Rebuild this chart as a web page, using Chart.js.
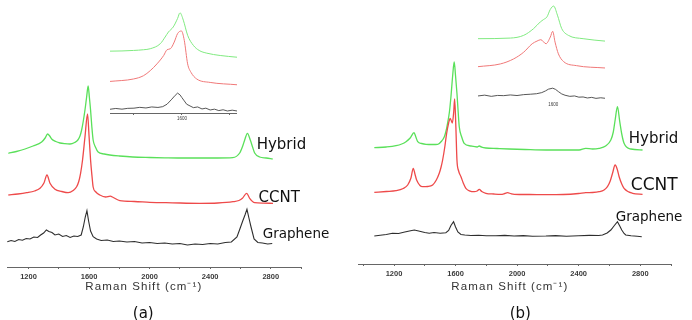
<!DOCTYPE html>
<html>
<head>
<meta charset="utf-8">
<script src="https://cdn.jsdelivr.net/npm/chart.js@4.4.1/dist/chart.umd.min.js"></script>
<style>
  html, body { margin: 0; padding: 0; background: #fff; }
  #wrap { position: relative; width: 692px; height: 320px; overflow: hidden; }
  .box { position: absolute; }
</style>
</head>
<body>
<div id="wrap">
  <div class="box" style="left:0;top:0;width:346px;height:320px"><canvas id="mainA"></canvas></div>
  <div class="box" style="left:346px;top:0;width:346px;height:320px"><canvas id="mainB"></canvas></div>
  <div class="box" style="left:110px;top:0;width:127px;height:125px"><canvas id="insetA"></canvas></div>
  <div class="box" style="left:478px;top:0;width:127px;height:110px"><canvas id="insetB"></canvas></div>
</div>
<script>
// Raman spectra, intensities in arbitrary units (stacked as drawn)

// ---- panel (a) ----
const aHybridX = [1067, 1120, 1177, 1230, 1287, 1310, 1326, 1340, 1353, 1380, 1408, 1440, 1474, 1505, 1526, 1540, 1551, 1562, 1573, 1584, 1594, 1602, 1610, 1618, 1627, 1642, 1660, 1700, 1737, 1800, 1889, 2000, 2100, 2200, 2331, 2450, 2549, 2595, 2615, 2628, 2646, 2665, 2680, 2694, 2727, 2770, 2813];
const aHybridY = [113.7, 115.5, 118, 121, 125, 129, 133, 131, 128, 125.5, 124, 123.3, 123, 124.5, 127, 131, 137, 146, 157, 170, 181, 170, 157, 141, 127, 120, 115, 113, 112, 111, 110, 109.5, 109.2, 109, 109, 109, 109.3, 114, 121, 127, 133.7, 127, 120, 114, 110, 109, 108];

const aCcntX = [1067, 1130, 1188, 1240, 1276, 1302, 1322, 1342, 1375, 1420, 1462, 1495, 1518, 1532, 1544, 1557, 1573, 1590, 1600, 1610, 1620, 1627, 1645, 1671, 1710, 1740, 1760, 1803, 1900, 2001, 2150, 2331, 2450, 2551, 2590, 2613, 2641, 2661, 2694, 2750, 2815];
const aCcntY = [72, 73, 74.3, 76, 78.7, 84, 92, 83.7, 77.7, 75.5, 74.3, 76.5, 80.3, 85.5, 93.7, 107, 130, 153, 131, 107, 90, 80, 75, 72, 70, 70.8, 69.5, 66.3, 65.5, 64.7, 64.2, 63.7, 64, 65.3, 66.5, 68.7, 73.7, 68.7, 64.3, 63.8, 63.7];

const aGrapheneX = [1060, 1085, 1110, 1135, 1160, 1185, 1210, 1235, 1260, 1280, 1300, 1318, 1335, 1355, 1375, 1400, 1425, 1450, 1475, 1500, 1525, 1548, 1562, 1575, 1586, 1597, 1610, 1627, 1650, 1680, 1720, 1760, 1800, 1850, 1900, 1950, 2000, 2050, 2100, 2150, 2200, 2250, 2300, 2350, 2400, 2450, 2500, 2540, 2577, 2595, 2615, 2630, 2643, 2656, 2670, 2690, 2715, 2745, 2780, 2810];
const aGrapheneY = [25.3, 26.5, 25.5, 27.5, 26.8, 28.5, 28, 30, 29.5, 32, 34, 37, 35.5, 34.5, 32, 33, 30.5, 31.5, 29.5, 31, 30.5, 32, 40, 50, 56.3, 46, 36, 30.3, 28, 26.5, 27, 25.5, 26, 25, 25.5, 24, 24.5, 23.5, 24, 23, 23.5, 22, 23, 22.5, 23.5, 23, 24.5, 25, 30, 37.5, 46, 52, 57.7, 49, 40, 28, 24.5, 24, 23, 23.5];

// inset (a), G band region
const aInHybridX = [1450, 1475, 1499, 1520, 1534, 1555, 1565, 1572, 1582, 1591, 1596, 1603, 1612, 1624, 1636, 1652, 1680, 1715];
const aInHybridY = [61.3, 61.5, 62, 62.7, 63.7, 68.7, 75.3, 80.3, 85.3, 93.7, 99.3, 92, 77, 67, 62, 59.3, 57, 55.3];
const aInCcntX = [1450, 1499, 1520, 1534, 1548, 1562, 1569, 1576, 1584, 1591, 1599, 1605, 1612, 1619, 1631, 1659, 1715];
const aInCcntY = [31.3, 33.7, 37, 42, 48.7, 57, 62.7, 63.7, 70.3, 78.7, 81.3, 72, 48.7, 40.3, 33.7, 30.3, 28];
const aInGrapheneX = [1450, 1462, 1475, 1487, 1500, 1512, 1525, 1537, 1550, 1560, 1569, 1579, 1586, 1591, 1596, 1600, 1605, 1610, 1617, 1624, 1633, 1642, 1650, 1659, 1668, 1677, 1686, 1695, 1705, 1715];
const aInGrapheneY = [3.7, 4.5, 3.8, 4.6, 4.8, 5.6, 5, 6, 5.5, 6.3, 8.7, 13.7, 17.5, 19.7, 18, 15.3, 12, 8.7, 7, 5.3, 6, 4, 4.8, 3, 3.8, 2.4, 3.2, 2, 2.8, 2];

// ---- panel (b) ----
const bHybridX = [1072, 1150, 1213, 1250, 1278, 1305, 1330, 1342, 1354, 1380, 1408, 1450, 1484, 1510, 1527, 1538, 1548, 1560, 1570, 1581, 1591, 1600, 1609, 1617, 1624, 1640, 1656, 1700, 1740, 1754, 1770, 1797, 1870, 1948, 2050, 2187, 2300, 2403, 2446, 2490, 2533, 2575, 2609, 2625, 2637, 2652, 2667, 2680, 2695, 2739, 2815];
const bHybridY = [116.3, 117, 118.3, 120, 122.3, 126, 131.3, 127, 122.3, 120.5, 119.7, 119.5, 119.7, 123, 127.3, 133, 140.7, 152, 167.3, 188, 202, 188, 170.7, 152, 137.3, 127, 120.7, 118, 117, 118, 116.8, 116, 115.5, 115, 114.5, 114, 114, 114, 115.7, 115, 115.7, 118, 124, 132, 144, 157.3, 142.3, 130, 120.7, 115, 114];

const bCcntX = [1072, 1150, 1213, 1260, 1289, 1310, 1325, 1336, 1347, 1386, 1420, 1451, 1475, 1494, 1506, 1516, 1530, 1542, 1555, 1565, 1579, 1588, 1594, 1602, 1609, 1620, 1635, 1650, 1667, 1722, 1740, 1754, 1770, 1797, 1850, 1895, 1920, 1938, 1960, 1981, 2080, 2187, 2300, 2400, 2446, 2490, 2533, 2565, 2587, 2605, 2620, 2637, 2650, 2663, 2680, 2695, 2750, 2815];
const bCcntY = [71.7, 72.5, 73.3, 75.5, 79, 86, 95.7, 90, 84, 77.3, 77.5, 79, 84, 90.7, 97, 104, 117, 130.7, 141, 145.7, 141, 152, 165, 137, 104, 93, 87.3, 81, 75.7, 72.3, 73, 74.7, 72.5, 70.7, 70, 69.7, 70.5, 71.3, 70.3, 69.7, 69.5, 69.3, 69.5, 70.5, 71.3, 71.5, 72.3, 74, 77.3, 83, 90.7, 99, 95, 87.3, 80, 75.7, 70.7, 69.7];

const bGrapheneX = [1072, 1110, 1150, 1190, 1230, 1270, 1300, 1332, 1360, 1400, 1429, 1460, 1500, 1537, 1555, 1570, 1587, 1600, 1615, 1635, 1660, 1700, 1750, 1800, 1862, 1920, 1980, 2040, 2100, 2187, 2250, 2320, 2400, 2470, 2530, 2555, 2585, 2609, 2632, 2652, 2667, 2680, 2695, 2706, 2740, 2780, 2810];
const bGrapheneY = [28, 28.8, 29.5, 30.7, 30.5, 32, 33, 34, 33, 31.5, 30.7, 31.5, 30.8, 31.3, 33.5, 38.5, 42.3, 37, 32, 29.5, 29, 28.5, 28.8, 28.3, 28.3, 28.6, 28, 28.4, 27.8, 28, 28.4, 27.8, 28.2, 28.6, 28.5, 29, 31, 34, 38.5, 42.3, 38, 34, 30.5, 29, 28.2, 27.8, 27.3];

// inset (b)
const bInHybridX = [1442, 1510, 1538, 1559, 1573, 1580, 1587, 1594, 1601, 1609, 1618, 1632, 1663, 1709];
const bInHybridY = [61.7, 62.3, 65, 71.7, 78.3, 80.7, 83.3, 90.7, 94, 85, 71.7, 65, 61.7, 59.3];
const bInCcntX = [1442, 1489, 1517, 1538, 1556, 1566, 1574, 1585, 1594, 1599, 1604, 1611, 1622, 1649, 1709];
const bInCcntY = [34, 36.7, 41.7, 48.3, 56.7, 59.3, 60.7, 56.7, 63.3, 69, 58.3, 46.7, 39, 35, 32.7];
const bInGrapheneX = [1442, 1456, 1470, 1483, 1496, 1510, 1524, 1538, 1552, 1565, 1576, 1584, 1590, 1599, 1605, 1611, 1618, 1625, 1635, 1645, 1654, 1663, 1672, 1681, 1690, 1700, 1709];
const bInGrapheneY = [5, 5.8, 4.6, 5.5, 5.3, 6, 5.4, 6.3, 6.7, 7.2, 8.3, 10, 11.7, 12.7, 11.5, 9.3, 7, 5.7, 4.6, 5, 3.8, 4, 3, 3.6, 2.6, 3.2, 2.7];

// tick positions
const mainTicks = [1000, 1200, 1400, 1600, 1800, 2000, 2200, 2400, 2600, 2800, 3000];
const mainTickLabels = [1200, 1600, 2000, 2400, 2800];
const insetTicks = [1500, 1600, 1700];
const insetTickLabels = [1600];

const GREEN = '#5ae05a';
const RED = '#ee4a4a';
const BLACK = '#2e2e2e';
const IN_GREEN = '#80ea80';
const IN_RED = '#f07878';
const IN_BLACK = '#444444';

// draws free text at data coordinates (curve names, axis caption, panel letter)
const textMarks = {
  id: 'textMarks',
  afterDraw(chart, args, opts) {
    if (!opts.items) return;
    const { ctx, scales } = chart;
    ctx.save();
    opts.items.forEach((it) => {
      ctx.font = it.font;
      ctx.fillStyle = it.color || '#111';
      ctx.textAlign = it.align || 'left';
      ctx.textBaseline = 'middle';
      ctx.letterSpacing = it.spacing || '0px';
      ctx.fillText(it.text, scales.x.getPixelForValue(it.x), scales.y.getPixelForValue(it.y));
    });
    ctx.restore();
  },
};
Chart.register(textMarks);

function series(label, xs, ys, color, width, order, smooth) {
  return {
    label,
    data: xs.map((x, i) => ({ x, y: ys[i] })),
    borderColor: color,
    borderWidth: width,
    pointRadius: 0,
    fill: false,
    order,
    tension: 0,
    cubicInterpolationMode: smooth ? 'monotone' : 'default',
  };
}

function xScale(min, max, tickVals, labelVals, font, opts) {
  return {
    type: 'linear',
    position: 'bottom',
    min,
    max,
    afterBuildTicks: (axis) => {
      axis.ticks = tickVals.filter((v) => v >= min && v <= max).map((v) => ({ value: v }));
    },
    ticks: {
      autoSkip: false,
      maxRotation: 0,
      padding: opts.padding,
      color: '#3a3a3a',
      font,
      callback: (v) => (labelVals.includes(v) ? String(v) : ''),
    },
    grid: {
      drawOnChartArea: false,
      drawTicks: opts.drawTicks,
      tickLength: opts.tickLength,
      color: '#666',
    },
    border: { display: opts.border, color: '#666', width: 1 },
  };
}

function makeChart(id, datasets, xs, yMax, padding, items) {
  return new Chart(document.getElementById(id), {
    type: 'line',
    data: { datasets },
    options: {
      responsive: true,
      maintainAspectRatio: false,
      animation: false,
      events: [],
      layout: { padding },
      scales: {
        x: xs,
        y: { display: false, min: 0, max: yMax },
      },
      plugins: {
        legend: { display: false },
        tooltip: { enabled: false },
        textMarks: { items },
      },
    },
  });
}

const tickFont = { family: 'Liberation Sans', size: 7.5, weight: 'bold' };
const mainAxisOpts = { padding: 3, drawTicks: true, tickLength: 2, border: true };
const capFont = '11.5px "Liberation Sans"';

makeChart('mainA', [
  series('Hybrid', aHybridX, aHybridY, GREEN, 1.3, 1, true),
  series('CCNT', aCcntX, aCcntY, RED, 1.3, 0, true),
  series('Graphene', aGrapheneX, aGrapheneY, BLACK, 1.1, 2, false),
], xScale(1058, 3000, mainTicks, mainTickLabels, tickFont, mainAxisOpts), 267,
{ left: 7, right: 45, top: 0, bottom: 36 }, [
  { text: 'Hybrid', x: 2707, y: 122, font: '15px "DejaVu Sans"' },
  { text: 'CCNT', x: 2720, y: 69, font: '15px "DejaVu Sans"' },
  { text: 'Graphene', x: 2747, y: 33, font: '13.5px "DejaVu Sans"' },
  { text: 'Raman Shift (cm⁻¹)', x: 1962, y: -20, font: capFont, align: 'center', color: '#333', spacing: '1.1px' },
  { text: '(a)', x: 1958, y: -47, font: '15px "DejaVu Sans"', align: 'center' },
]);

makeChart('mainB', [
  series('Hybrid', bHybridX, bHybridY, GREEN, 1.3, 1, true),
  series('CCNT', bCcntX, bCcntY, RED, 1.3, 0, true),
  series('Graphene', bGrapheneX, bGrapheneY, BLACK, 1.1, 2, false),
], xScale(966, 3000, mainTicks, mainTickLabels, tickFont, mainAxisOpts), 264,
{ left: 12, right: 21, top: 0, bottom: 39 }, [
  { text: 'Hybrid', x: 2726, y: 125, font: '15px "DejaVu Sans"' },
  { text: 'CCNT', x: 2739, y: 78, font: '17px "DejaVu Sans"' },
  { text: 'Graphene', x: 2641, y: 47, font: '13.5px "DejaVu Sans"' },
  { text: 'Raman Shift (cm⁻¹)', x: 1953, y: -23, font: capFont, align: 'center', color: '#333', spacing: '1.1px' },
  { text: '(b)', x: 2021, y: -50, font: '15px "DejaVu Sans"', align: 'center' },
]);

const inFont = { family: 'Liberation Sans', size: 4.5 };

makeChart('insetA', [
  series('Hybrid', aInHybridX, aInHybridY, IN_GREEN, 1, 1, true),
  series('CCNT', aInCcntX, aInCcntY, IN_RED, 1, 0, true),
  series('Graphene', aInGrapheneX, aInGrapheneY, IN_BLACK, 0.9, 2, false),
], xScale(1450, 1715, insetTicks, insetTickLabels, inFont, { padding: 1, drawTicks: true, tickLength: 2, border: true }), 112,
{ left: 0, right: 0, top: 0, bottom: 2.6 }, []);

makeChart('insetB', [
  series('Hybrid', bInHybridX, bInHybridY, IN_GREEN, 1, 1, true),
  series('CCNT', bInCcntX, bInCcntY, IN_RED, 1, 0, true),
  series('Graphene', bInGrapheneX, bInGrapheneY, IN_BLACK, 0.9, 2, false),
], xScale(1442, 1709, insetTicks, insetTickLabels, inFont, { padding: 1, drawTicks: false, tickLength: 0, border: false }), 100,
{ left: 0, right: 0, top: 0, bottom: 1.6 }, []);
</script>
</body>
</html>
